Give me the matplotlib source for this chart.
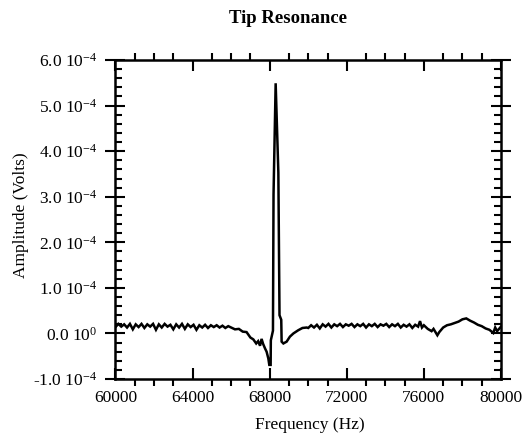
import matplotlib
matplotlib.use("Agg")
import matplotlib.pyplot as plt
from matplotlib.ticker import FixedLocator, MultipleLocator
import numpy as np

plt.rcParams["font.family"] = ["Liberation Serif", "DejaVu Serif"]
plt.rcParams["mathtext.fontset"] = "custom"
plt.rcParams["mathtext.rm"] = "Liberation Serif"
plt.rcParams["mathtext.it"] = "Liberation Serif:italic"
plt.rcParams["mathtext.bf"] = "Liberation Serif:bold"

# ── data (amplitude in units of 1e-4 V) ──────────────────────────────────────
freq_left = [60000, 60150, 60300, 60450, 60600, 60750, 60900, 61050, 61200, 61350,
             61500, 61650, 61800, 61950, 62100, 62250, 62400, 62550, 62700, 62850,
             63000, 63150, 63300, 63450, 63600, 63750, 63900, 64050, 64200, 64350,
             64500, 64650, 64800, 64950, 65100, 65250, 65400, 65550, 65700, 65850]
amp_left = [0.14, 0.21, 0.15, 0.20, 0.13, 0.21, 0.09, 0.20, 0.14, 0.21,
            0.12, 0.20, 0.15, 0.21, 0.08, 0.20, 0.13, 0.21, 0.15, 0.19,
            0.09, 0.20, 0.13, 0.21, 0.10, 0.20, 0.14, 0.19, 0.08, 0.18,
            0.13, 0.19, 0.12, 0.18, 0.14, 0.18, 0.13, 0.17, 0.12, 0.16]

freq_peak = [66000, 66200, 66400, 66600, 66800, 67000, 67150, 67300, 67400, 67500,
             67580, 67660, 67760, 67840, 67930, 67980, 68050, 68060, 68170, 68200,
             68310, 68450, 68510, 68600, 68620, 68710, 68880, 69050, 69230, 69480,
             69700, 69920]
amp_peak = [0.13, 0.09, 0.10, 0.04, 0.03, -0.09, -0.13, -0.22, -0.17, -0.27,
            -0.12, -0.23, -0.33, -0.40, -0.55, -0.69, -0.69, -0.15, 0.06, 3.05,
            5.49, 3.53, 0.40, 0.30, -0.18, -0.22, -0.18, -0.07, 0.00, 0.07,
            0.12, 0.13]

freq_right = [70000, 70150, 70300, 70450, 70600, 70750, 70900, 71050, 71200, 71350,
              71500, 71650, 71800, 71950, 72100, 72250, 72400, 72550, 72700, 72850,
              73000, 73150, 73300, 73450, 73600, 73750, 73900, 74050, 74200, 74350,
              74500, 74650, 74800, 74950, 75100, 75250, 75400, 75550, 75700, 75800,
              75900, 76000, 76200, 76400, 76500, 76700, 76800, 77000, 77200, 77400,
              77600, 77800, 78000, 78200, 78400, 78600, 78800, 79000, 79200, 79400,
              79600, 79700, 79800, 80000]
amp_right = [0.12, 0.18, 0.13, 0.19, 0.11, 0.20, 0.15, 0.21, 0.13, 0.20,
             0.16, 0.21, 0.14, 0.20, 0.17, 0.21, 0.14, 0.20, 0.16, 0.21,
             0.13, 0.20, 0.16, 0.21, 0.14, 0.20, 0.17, 0.21, 0.14, 0.20,
             0.16, 0.21, 0.13, 0.19, 0.15, 0.20, 0.12, 0.19, 0.15, 0.27,
             0.13, 0.18, 0.10, 0.05, 0.10, -0.04, 0.03, 0.13, 0.18, 0.20,
             0.23, 0.26, 0.31, 0.33, 0.28, 0.24, 0.19, 0.16, 0.11, 0.08,
             0.01, 0.13, 0.05, 0.15]

y_ticks = [-1e-4, 0.0, 1e-4, 2e-4, 3e-4, 4e-4, 5e-4, 6e-4]
y_labels = [r"-1.0 10$^{-4}$", r"0.0 10$^{0}$", r"1.0 10$^{-4}$", r"2.0 10$^{-4}$",
            r"3.0 10$^{-4}$", r"4.0 10$^{-4}$", r"5.0 10$^{-4}$", r"6.0 10$^{-4}$"]
x_ticks = [60000, 64000, 68000, 72000, 76000, 80000]

freq = np.array(freq_left + freq_peak + freq_right)
amp = np.array(amp_left + amp_peak + amp_right) * 1e-4

# ── figure ───────────────────────────────────────────────────────────────────
fig = plt.figure(figsize=(5.23, 4.40), dpi=100)
ax = fig.add_axes([0.2208, 0.1386, 0.7371, 0.725])

ax.plot(freq, amp, color="black", linewidth=1.8, solid_joinstyle="miter")

ax.set_xlim(60000, 80000)
ax.set_ylim(-1e-4, 6e-4)

ax.xaxis.set_major_locator(FixedLocator(x_ticks))
ax.xaxis.set_minor_locator(MultipleLocator(1000))
ax.yaxis.set_major_locator(FixedLocator(y_ticks))
ax.yaxis.set_minor_locator(MultipleLocator(2e-5))
ax.set_yticklabels(y_labels)
ax.set_xticklabels([str(t) for t in x_ticks])

for s in ax.spines.values():
    s.set_linewidth(1.8)

ax.tick_params(axis="x", which="major", direction="in", length=8, width=1.5,
               top=True, bottom=True, labelsize=12.5, pad=8)
ax.tick_params(axis="x", which="minor", direction="out", length=5, width=1.5,
               top=True, bottom=True)
ax.tick_params(axis="y", which="major", direction="inout", length=14, width=1.5,
               left=True, right=True, labelsize=12.5, pad=6)
ax.tick_params(axis="y", which="minor", direction="in", length=5, width=1.5,
               left=True, right=True)

fig.text(0.551, 0.959, "Tip Resonance", ha="center", va="center",
         fontsize=13.5, fontweight="bold")
fig.text(0.593, 0.034, "Frequency (Hz)", ha="center", va="center", fontsize=12.5)
fig.text(0.040, 0.511, "Amplitude (Volts)", ha="center", va="center",
         rotation=90, fontsize=12.5)

fig.savefig("out.png", dpi=100)
